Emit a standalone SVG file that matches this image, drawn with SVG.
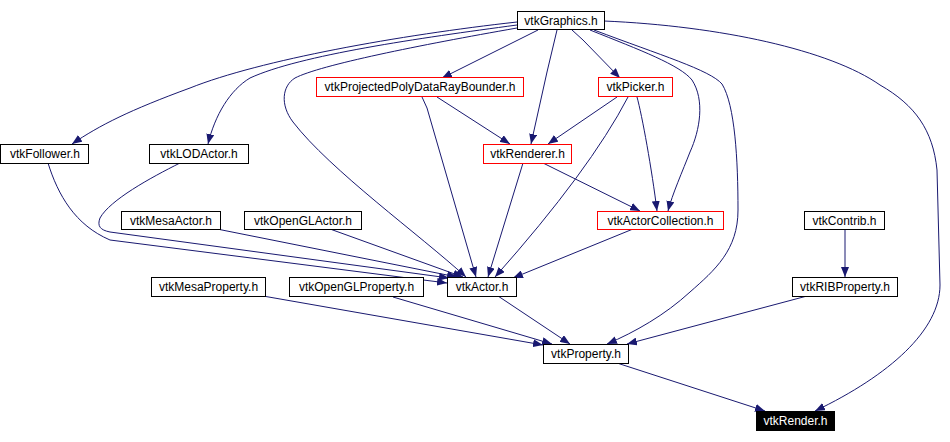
<svg xmlns="http://www.w3.org/2000/svg" width="950" height="442" viewBox="0 0 950 442">
<style>
.n rect{fill:#fff;stroke:#000;stroke-width:1}
.n.r rect{stroke:#f00}
.n text{font-family:"Liberation Sans",Arial,sans-serif;font-size:12px;text-anchor:middle;fill:#000}
.n.b rect{fill:#000;stroke:#000}
.n.b text{fill:#fff}
.e path{fill:none;stroke:#191970;stroke-width:1;marker-end:url(#a)}
</style>
<defs>
<marker id="a" markerWidth="10" markerHeight="8" refX="10" refY="4" orient="auto" markerUnits="userSpaceOnUse">
<path d="M0,0 L10,4 L0,8 z" fill="#191970" stroke="none"/>
</marker>
</defs>
<rect width="950" height="442" fill="#fff"/>
<g id="edges" class="e">
<path d="M517,22 C400,35 260,60 190,88 C130,110 100,125 72,144"/>
<path d="M517,25 C420,38 300,55 250,78 C230,90 215,115 208,144"/>
<path d="M517,28 C420,45 320,65 295,78 C282,86 280,105 293,122 C330,170 420,235 466,277"/>
<path d="M538,30 L442,78"/>
<path d="M557,30 L547,72 L531,144"/>
<path d="M572,30 L583,40 L620,78"/>
<path d="M590,30 C640,50 680,65 692,80 C705,100 700,130 690,152 C683,170 672,195 668,211"/>
<path d="M594,30 C660,55 710,70 722,84 C735,105 738,160 738,210 C738,250 715,270 690,292 C665,315 635,332 607,344"/>
<path d="M604,21 C720,26 830,50 880,85 C915,105 933,130 937,170 L940,285 C940,330 890,375 815,411"/>
<path d="M437,97 L510,144"/>
<path d="M422,97 L427,108 L476,277"/>
<path d="M617,97 L548,144"/>
<path d="M628,97 Q590,170 495,277"/>
<path d="M637,97 C642,115 652,170 657,211"/>
<path d="M543,163 L640,211"/>
<path d="M523,163 L488,277"/>
<path d="M633,229 L513,278"/>
<path d="M48,163 C58,195 75,225 110,240 L447,283"/>
<path d="M180,163 C150,178 110,200 100,218 C97,226 100,230 110,232 L449,278"/>
<path d="M217,229 L457,277"/>
<path d="M330,229 L463,277"/>
<path d="M263,296 L543,345"/>
<path d="M393,297 L552,344"/>
<path d="M498,296 L570,344"/>
<path d="M807,296 L627,344"/>
<path d="M845,230 L845,277"/>
<path d="M617,363 L765,411"/>
</g>
<g id="vtkGraphics" class="n"><rect x="517.5" y="11.5" width="87" height="18"/><text x="561" y="25">vtkGraphics.h</text></g>
<g id="vtkProjectedPolyDataRayBounder" class="n r"><rect x="316.5" y="77.5" width="207" height="19"/><text x="420" y="91">vtkProjectedPolyDataRayBounder.h</text></g>
<g id="vtkPicker" class="n r"><rect x="598.5" y="77.5" width="74" height="19"/><text x="635.5" y="91">vtkPicker.h</text></g>
<g id="vtkFollower" class="n"><rect x="0.5" y="144.5" width="88" height="19"/><text x="45" y="158">vtkFollower.h</text></g>
<g id="vtkLODActor" class="n"><rect x="149.5" y="144.5" width="99" height="19"/><text x="199" y="158">vtkLODActor.h</text></g>
<g id="vtkRenderer" class="n r"><rect x="483.5" y="144.5" width="88" height="19"/><text x="527.5" y="158">vtkRenderer.h</text></g>
<g id="vtkMesaActor" class="n"><rect x="121.5" y="211.5" width="99" height="18"/><text x="171" y="225">vtkMesaActor.h</text></g>
<g id="vtkOpenGLActor" class="n"><rect x="244.5" y="211.5" width="117" height="18"/><text x="303" y="225">vtkOpenGLActor.h</text></g>
<g id="vtkActorCollection" class="n r"><rect x="597.5" y="211.5" width="126" height="18"/><text x="660.5" y="225">vtkActorCollection.h</text></g>
<g id="vtkContrib" class="n"><rect x="804.5" y="211.5" width="80" height="18"/><text x="844.5" y="225">vtkContrib.h</text></g>
<g id="vtkMesaProperty" class="n"><rect x="151.5" y="277.5" width="114" height="19"/><text x="208.5" y="291">vtkMesaProperty.h</text></g>
<g id="vtkOpenGLProperty" class="n"><rect x="289.5" y="277.5" width="134" height="19"/><text x="356.5" y="291">vtkOpenGLProperty.h</text></g>
<g id="vtkActor" class="n"><rect x="447.5" y="277.5" width="69" height="19"/><text x="482" y="291">vtkActor.h</text></g>
<g id="vtkRIBProperty" class="n"><rect x="792.5" y="277.5" width="105" height="19"/><text x="845" y="291">vtkRIBProperty.h</text></g>
<g id="vtkProperty" class="n"><rect x="543.5" y="344.5" width="85" height="19"/><text x="586" y="358">vtkProperty.h</text></g>
<g id="vtkRender" class="n b"><rect x="756.5" y="411.5" width="78" height="19"/><text x="795.5" y="425">vtkRender.h</text></g>
</svg>
